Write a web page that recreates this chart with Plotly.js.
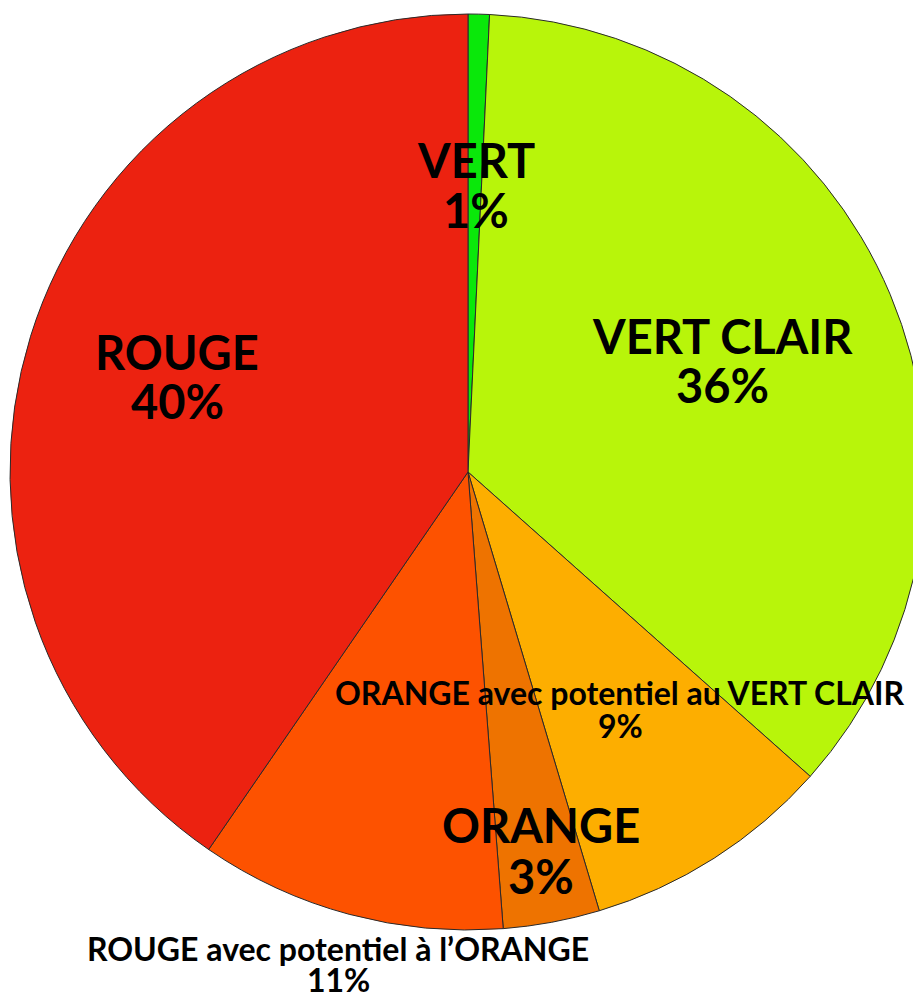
<!DOCTYPE html>
<html>
<head>
<meta charset="utf-8">
<script src="https://cdn.plot.ly/plotly-3.0.1.min.js"></script>
<style>
html,body{margin:0;padding:0;overflow:hidden;background:#fff;}
#chart{width:936px;height:997px;}
</style>
</head>
<body>
<div id="chart"></div>
<script>
// Data (clockwise from 12 o'clock)
const labels = ["VERT", "VERT CLAIR", "ORANGE avec potentiel au VERT CLAIR", "ORANGE", "ROUGE avec potentiel à l’ORANGE", "ROUGE"];
const values = [0.75, 35.8, 8.8, 3.4, 10.8, 40.4];
const colors = ["#0ae80a", "#b8f50a", "#fdae00", "#ee7300", "#fd5200", "#ec2210"];

// Label placement (pixel centres) and sizes
const W = 936, H = 997;
const labelPos = [
  {x: 476, y1: 160, y2: 210, size: 47},
  {x: 722, y1: 336, y2: 385, size: 47},
  {x: 620, y1: 692, y2: 725, size: 32},
  {x: 541, y1: 825, y2: 876, size: 47},
  {x: 338, y1: 948, y2: 979, size: 32},
  {x: 177, y1: 352, y2: 401, size: 47}
];

const total = values.reduce((a, b) => a + b, 0);
const pctText = values.map(v => Math.round(v / total * 100) + "%");

const annotations = [];
labels.forEach((lab, i) => {
  const p = labelPos[i];
  const f = {family: "Lato, 'Open Sans', sans-serif", size: p.size, color: "#000", weight: 700};
  annotations.push({text: "<b>" + lab + "</b>", x: p.x / W, y: 1 - p.y1 / H, xref: "paper", yref: "paper",
    xanchor: "center", yanchor: "middle", showarrow: false, font: f});
  annotations.push({text: "<b>" + pctText[i] + "</b>", x: p.x / W, y: 1 - p.y2 / H, xref: "paper", yref: "paper",
    xanchor: "center", yanchor: "middle", showarrow: false, font: f});
});

const trace = {
  type: "pie",
  labels: labels,
  values: values,
  sort: false,
  direction: "clockwise",
  rotation: 0,
  marker: {colors: colors, line: {color: "#2a2a2a", width: 1}},
  textinfo: "none",
  hoverinfo: "label+percent",
  domain: {x: [10 / W, 926 / W], y: [1 - 930 / H, 1 - 14 / H]}
};

const layout = {
  width: W,
  height: H,
  margin: {l: 0, r: 0, t: 0, b: 0},
  showlegend: false,
  paper_bgcolor: "#fff",
  annotations: annotations
};

Plotly.newPlot("chart", [trace], layout, {displayModeBar: false, staticPlot: true});
</script>
</body>
</html>
